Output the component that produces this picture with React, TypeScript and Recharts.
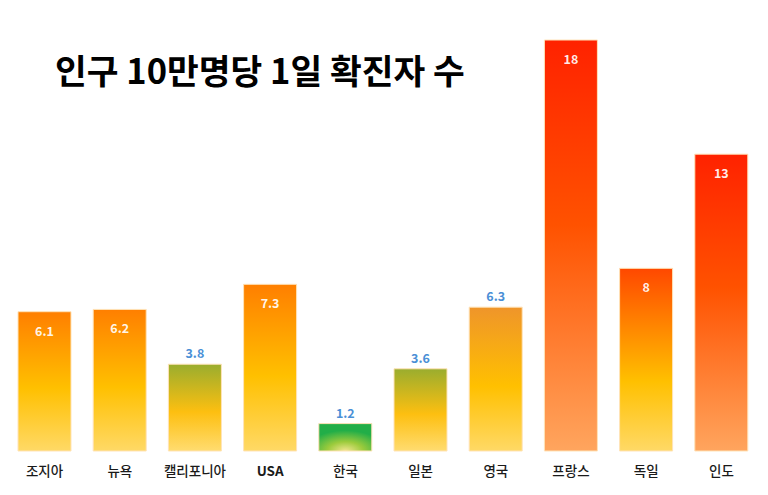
import React from "react";
import { BarChart, Bar, XAxis, YAxis, Cell, LabelList } from "recharts";

const categories = ["조지아", "뉴욕", "캘리포니아", "USA", "한국", "일본", "영국", "프랑스", "독일", "인도"];
const casesPer100k = [6.1, 6.2, 3.8, 7.3, 1.2, 3.6, 6.3, 18, 8, 13];
const titleText = "인구 10만명당 1일 확진자 수";

const data = categories.map((name, i) => ({ name, value: casesPer100k[i] }));

// style: which gradient each bar uses, and whether its label sits above the bar
const gradientFor: Record<string, string> = {
  "조지아": "gOrange",
  "뉴욕": "gOrange",
  "캘리포니아": "gOlive",
  "USA": "gOrange",
  "한국": "gGreen",
  "일본": "gOlive",
  "영국": "gUK",
  "프랑스": "gRed",
  "독일": "gGermany",
  "인도": "gRed",
};
const labelAbove = new Set(["캘리포니아", "한국", "일본", "영국"]);

const FONT = "'Noto Sans CJK KR', 'Noto Sans', sans-serif";

const ValueLabel = (props: any) => {
  const { x, y, width, value, index } = props;
  const name = categories[index];
  const above = labelAbove.has(name);
  return (
    <text
      x={x + width / 2}
      y={above ? y - 6 : y + 24}
      textAnchor="middle"
      fontFamily={FONT}
      fontWeight={700}
      fontSize={12.5}
      fill={above ? "#4a8fd6" : "#ffffff"}
      fillOpacity={above ? 1 : 0.92}
    >
      {value}
    </text>
  );
};

const Tick = (props: any) => {
  const { x, y, payload } = props;
  return (
    <text
      x={x}
      y={y + 17}
      textAnchor="middle"
      fontFamily={FONT}
      fontWeight={payload.value === "USA" ? 700 : 500}
      fontSize={13.5}
      fill="#1a1a1a"
    >
      {payload.value}
    </text>
  );
};

export default function App() {
  return (
    <div style={{ position: "absolute", left: 0, top: 0, width: 768, height: 495, background: "#fff" }}>
      <div
        style={{
          position: "absolute",
          left: 55,
          top: 47,
          fontFamily: FONT,
          fontWeight: 700,
          fontSize: 34.5,
          color: "#000",
          lineHeight: "44px",
          whiteSpace: "nowrap",
          zIndex: 2,
        }}
      >
        {titleText}
      </div>
      <BarChart width={768} height={495} data={data} margin={{ top: 40, right: 9, left: 7, bottom: 0 }}>
        <defs>
          <linearGradient id="gOrange" x1="0" y1="0" x2="0" y2="1">
            <stop offset="0%" stopColor="#ff7f00" />
            <stop offset="55%" stopColor="#ffc000" />
            <stop offset="100%" stopColor="#ffd966" />
          </linearGradient>
          <linearGradient id="gRed" x1="0" y1="0" x2="0" y2="1">
            <stop offset="0%" stopColor="#ff2200" />
            <stop offset="45%" stopColor="#ff5200" />
            <stop offset="100%" stopColor="#ffa55e" />
          </linearGradient>
          <linearGradient id="gGermany" x1="0" y1="0" x2="0" y2="1">
            <stop offset="0%" stopColor="#ff4800" />
            <stop offset="35%" stopColor="#ff8c00" />
            <stop offset="62%" stopColor="#ffc000" />
            <stop offset="100%" stopColor="#ffd966" />
          </linearGradient>
          <linearGradient id="gOlive" x1="0" y1="0" x2="0" y2="1">
            <stop offset="0%" stopColor="#9aad2e" />
            <stop offset="55%" stopColor="#fdbf10" />
            <stop offset="100%" stopColor="#ffdc70" />
          </linearGradient>
          <linearGradient id="gUK" x1="0" y1="0" x2="0" y2="1">
            <stop offset="0%" stopColor="#ef952a" />
            <stop offset="55%" stopColor="#ffc000" />
            <stop offset="100%" stopColor="#ffd966" />
          </linearGradient>
          <radialGradient id="gGreen" cx="0.5" cy="1" r="0.75">
            <stop offset="0%" stopColor="#f2e690" />
            <stop offset="45%" stopColor="#9ccb3c" />
            <stop offset="100%" stopColor="#22ae48" />
          </radialGradient>
        </defs>
        <XAxis dataKey="name" axisLine={false} tickLine={false} height={44} tick={<Tick />} interval={0} />
        <YAxis hide domain={[0, 18]} />
        <Bar dataKey="value" barSize={53} isAnimationActive={false} stroke="#ffe3b8" strokeWidth={1}>
          {data.map((d) => (
            <Cell key={d.name} fill={`url(#${gradientFor[d.name]})`} />
          ))}
          <LabelList dataKey="value" content={<ValueLabel />} />
        </Bar>
      </BarChart>
    </div>
  );
}
